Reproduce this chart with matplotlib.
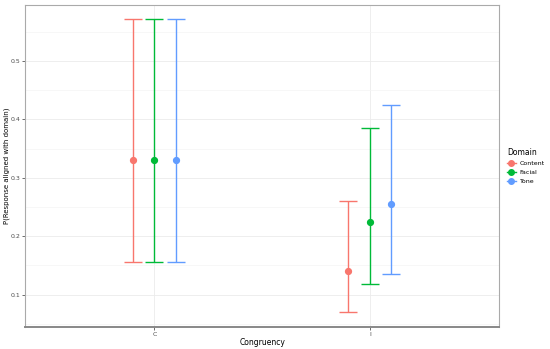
import numpy as np
import matplotlib.pyplot as plt
from matplotlib.ticker import MultipleLocator
from matplotlib.lines import Line2D

congruency = ['C', 'I']
domains = ['Content', 'Facial', 'Tone']
colors = ['#F8766D', '#00BA38', '#619CFF']

# estimates and interval bounds, one list per domain (C, I)
est = {'Content': [0.330, 0.140], 'Facial': [0.330, 0.224], 'Tone': [0.330, 0.255]}
lower = {'Content': [0.155, 0.070], 'Facial': [0.155, 0.118], 'Tone': [0.155, 0.136]}
upper = {'Content': [0.571, 0.261], 'Facial': [0.571, 0.386], 'Tone': [0.571, 0.425]}

fig = plt.figure(figsize=(5.5, 3.49), dpi=100)
ax = fig.add_axes([0.0455, 0.063, 0.862, 0.923])

x = np.arange(1, len(congruency) + 1)
dodge = [-0.1, 0.0, 0.1]
for d, c, off in zip(domains, colors, dodge):
    y = np.array(est[d])
    lo = y - np.array(lower[d])
    hi = np.array(upper[d]) - y
    ax.errorbar(x + off, y, yerr=[lo, hi], fmt='o', color=c, ms=4.2,
                elinewidth=1.0, capsize=6.5, capthick=1.0, zorder=3)

ax.set_xlim(0.4, 2.6)
ax.set_ylim(0.0445, 0.596)
ax.set_xticks(x)
ax.set_xticklabels(congruency)
ax.yaxis.set_major_locator(MultipleLocator(0.1))
ax.yaxis.set_minor_locator(MultipleLocator(0.05))
ax.set_yticks([0.1, 0.2, 0.3, 0.4, 0.5])
ax.set_yticklabels(['0.1', '0.2', '0.3', '0.4', '0.5'])
ax.grid(True, which='major', color='#EBEBEB', lw=0.6, zorder=0)
ax.grid(True, which='minor', axis='y', color='#F4F4F4', lw=0.5, zorder=0)
ax.set_axisbelow(True)
ax.tick_params(axis='both', which='major', labelsize=4.5, labelcolor='#4D4D4D',
               color='#333333', length=2, width=0.5, pad=1.5)
ax.tick_params(axis='y', which='minor', length=0)

for s in ['top', 'right', 'left']:
    ax.spines[s].set_color('#AAAAAA')
    ax.spines[s].set_linewidth(0.8)
ax.spines['bottom'].set_color('#888888')
ax.spines['bottom'].set_linewidth(1.4)

ax.set_xlabel('Congruency', fontsize=5.5, labelpad=1)
fig.text(0.012, 0.524, 'P(Response aligned with domain)', fontsize=5,
         rotation=90, ha='center', va='center')

handles = [Line2D([], [], color=c, marker='o', ms=4, lw=1.0) for c in colors]
leg = ax.legend(handles, domains, loc='center left', bbox_to_anchor=(1.005, 0.5),
                frameon=False, fontsize=4.5, title='Domain', title_fontsize=5.5,
                handlelength=1.4, handletextpad=0.6, labelspacing=0.6)
leg._legend_box.align = 'left'

fig.savefig('out.png', dpi=100)
